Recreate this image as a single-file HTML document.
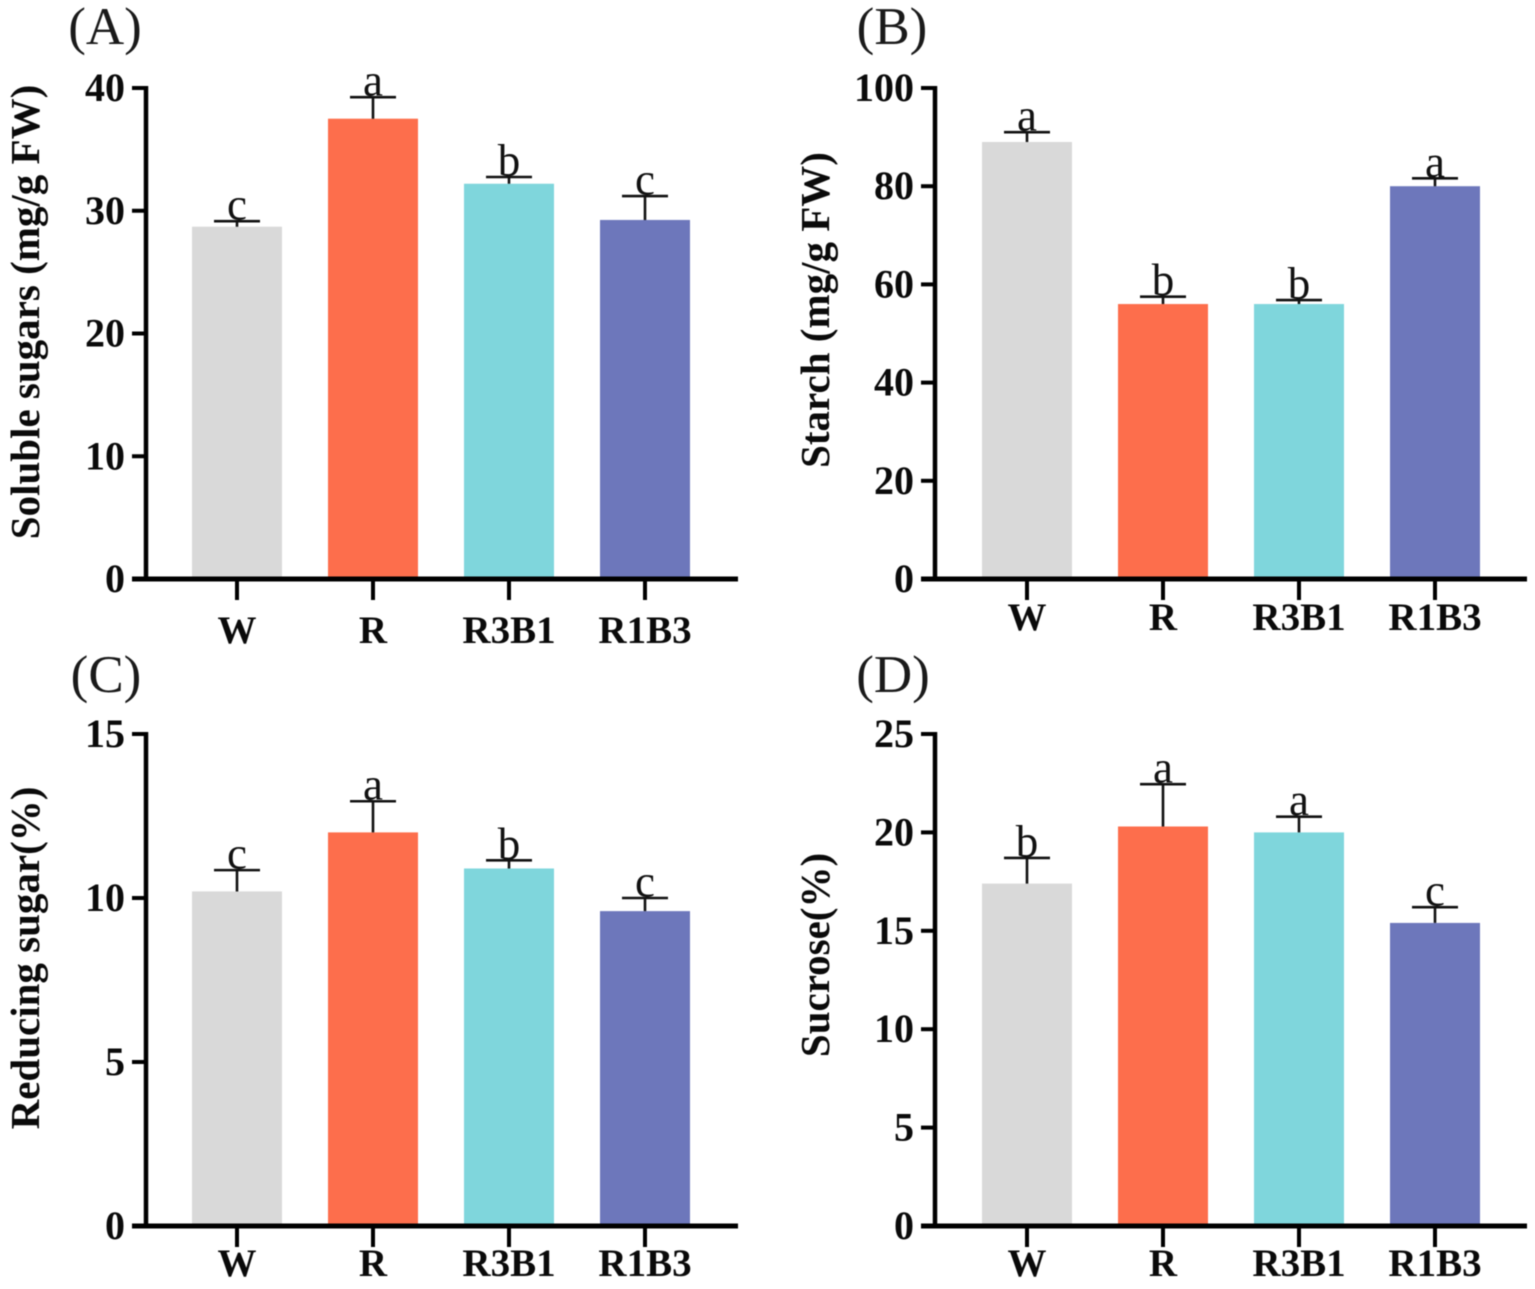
<!DOCTYPE html>
<html lang="en">
<head>
<meta charset="utf-8">
<title>Sugar and starch content by light treatment</title>
<style>
html,body{margin:0;padding:0;background:#fff}
svg{display:block;font-family:"Liberation Serif",serif;filter:blur(0.5px)}
.tick{font-weight:bold;font-size:40px;fill:#0a0a0a}
.cat{font-weight:bold;font-size:39px;fill:#0a0a0a}
.ytitle{font-weight:bold;font-size:41px;fill:#0a0a0a}
.panel{font-size:53px;fill:#1a1a1a}
.sig{font-size:45px;fill:#111}
</style>
</head>
<body>
<svg id="chart" xmlns="http://www.w3.org/2000/svg" width="1535" height="1289" viewBox="0 0 1535 1289"></svg>
<script>
const categories = ['W', 'R', 'R3B1', 'R1B3'];
const barColors = ['#d9d9d9', '#fd6e4c', '#7fd6dc', '#6d77bb'];

const solubleValues = [28.7, 37.5, 32.2, 29.25];
const solubleErrors = [0.45, 1.75, 0.55, 1.95];
const solubleLetters = ['c', 'a', 'b', 'c'];
const solubleTicks = [0, 10, 20, 30, 40];

const starchValues = [89, 56, 56, 80];
const starchErrors = [2, 1.5, 0.8, 1.6];
const starchLetters = ['a', 'b', 'b', 'a'];
const starchTicks = [0, 20, 40, 60, 80, 100];

const reducingValues = [10.2, 12.0, 10.9, 9.6];
const reducingErrors = [0.65, 0.95, 0.25, 0.4];
const reducingLetters = ['c', 'a', 'b', 'c'];
const reducingTicks = [0, 5, 10, 15];

const sucroseValues = [17.4, 20.3, 20.0, 15.4];
const sucroseErrors = [1.3, 2.15, 0.8, 0.8];
const sucroseLetters = ['b', 'a', 'a', 'c'];
const sucroseTicks = [0, 5, 10, 15, 20, 25];

const NS = 'http://www.w3.org/2000/svg';
const svg = document.getElementById('chart');

function make(parent, tag, attrs, text) {
  const el = document.createElementNS(NS, tag);
  for (const k in attrs) el.setAttribute(k, attrs[k]);
  if (text !== undefined) el.textContent = text;
  parent.appendChild(el);
  return el;
}

function drawPanel(p) {
  const g = make(svg, 'g', {});
  
  

  const yMax = p.ticks[p.ticks.length - 1];
  const y = v => p.bottom - (v / yMax) * (p.bottom - p.top);
  const x = i => p.firstX + i * 136;
  const barW = 90;

  const label = make(g, 'text', {class: 'panel', x: p.labelX, y: p.labelY, 'text-anchor': 'middle'}, '(' + p.id.toUpperCase() + ')');
  
  

  const title = make(g, 'text', {class: 'ytitle', 'text-anchor': 'middle',
    transform: 'translate(' + p.titleX + ',' + p.titleY + ') rotate(-90)'}, p.title);
  
  

  p.values.forEach((v, i) => {
    const cx = x(i);
    const bar = make(g, 'rect', {x: cx - barW / 2, y: y(v), width: barW, height: p.bottom - y(v), fill: barColors[i]});
    
    

    const capY = y(v + p.errors[i]);
    const err = make(g, 'path', {d: 'M' + cx + ' ' + y(v) + 'V' + capY + 'M' + (cx - 23) + ' ' + capY + 'H' + (cx + 23),
      stroke: '#111', 'stroke-width': 2.6, fill: 'none'});
    
    

    const sig = make(g, 'text', {class: 'sig', x: cx, y: capY - 1.5, 'text-anchor': 'middle'}, p.letters[i]);
    
    

    const tick = make(g, 'line', {x1: cx, x2: cx, y1: p.bottom, y2: p.bottom + 21, stroke: '#000', 'stroke-width': 4});
    
    

    const cat = make(g, 'text', {class: 'cat', x: cx, y: p.catY, 'text-anchor': 'middle'}, categories[i]);
    
    
  });

  const yAxis = make(g, 'line', {x1: p.axisX, x2: p.axisX, y1: p.top - 2, y2: p.bottom + 2.5, stroke: '#000', 'stroke-width': 4.5});
  
  

  const xAxis = make(g, 'line', {x1: p.axisX - 14, x2: p.axisX + 592, y1: p.bottom, y2: p.bottom, stroke: '#000', 'stroke-width': 5});
  
  

  p.ticks.forEach(t => {
    const ty = y(t);
    const mark = make(g, 'line', {x1: p.axisX - 14, x2: p.axisX, y1: ty, y2: ty, stroke: '#000', 'stroke-width': 4});
    
    

    const lab = make(g, 'text', {class: 'tick', x: p.axisX - 21, y: ty + 13, 'text-anchor': 'end'}, String(t));
    
    
  });
}

drawPanel({id: 'a', title: 'Soluble sugars (mg/g FW)', values: solubleValues, errors: solubleErrors, letters: solubleLetters, ticks: solubleTicks,
  axisX: 146, firstX: 237, top: 88, bottom: 579, catY: 643, labelX: 105, labelY: 44, titleX: 39, titleY: 312});
drawPanel({id: 'b', title: 'Starch (mg/g FW)', values: starchValues, errors: starchErrors, letters: starchLetters, ticks: starchTicks,
  axisX: 935, firstX: 1027, top: 88, bottom: 579, catY: 630, labelX: 892, labelY: 44, titleX: 829, titleY: 310});
drawPanel({id: 'c', title: 'Reducing sugar(%)', values: reducingValues, errors: reducingErrors, letters: reducingLetters, ticks: reducingTicks,
  axisX: 146, firstX: 237, top: 734, bottom: 1226, catY: 1276, labelX: 106, labelY: 692, titleX: 39, titleY: 958});
drawPanel({id: 'd', title: 'Sucrose(%)', values: sucroseValues, errors: sucroseErrors, letters: sucroseLetters, ticks: sucroseTicks,
  axisX: 935, firstX: 1027, top: 734, bottom: 1226, catY: 1276, labelX: 893, labelY: 692, titleX: 829, titleY: 955});
</script>
</body>
</html>
